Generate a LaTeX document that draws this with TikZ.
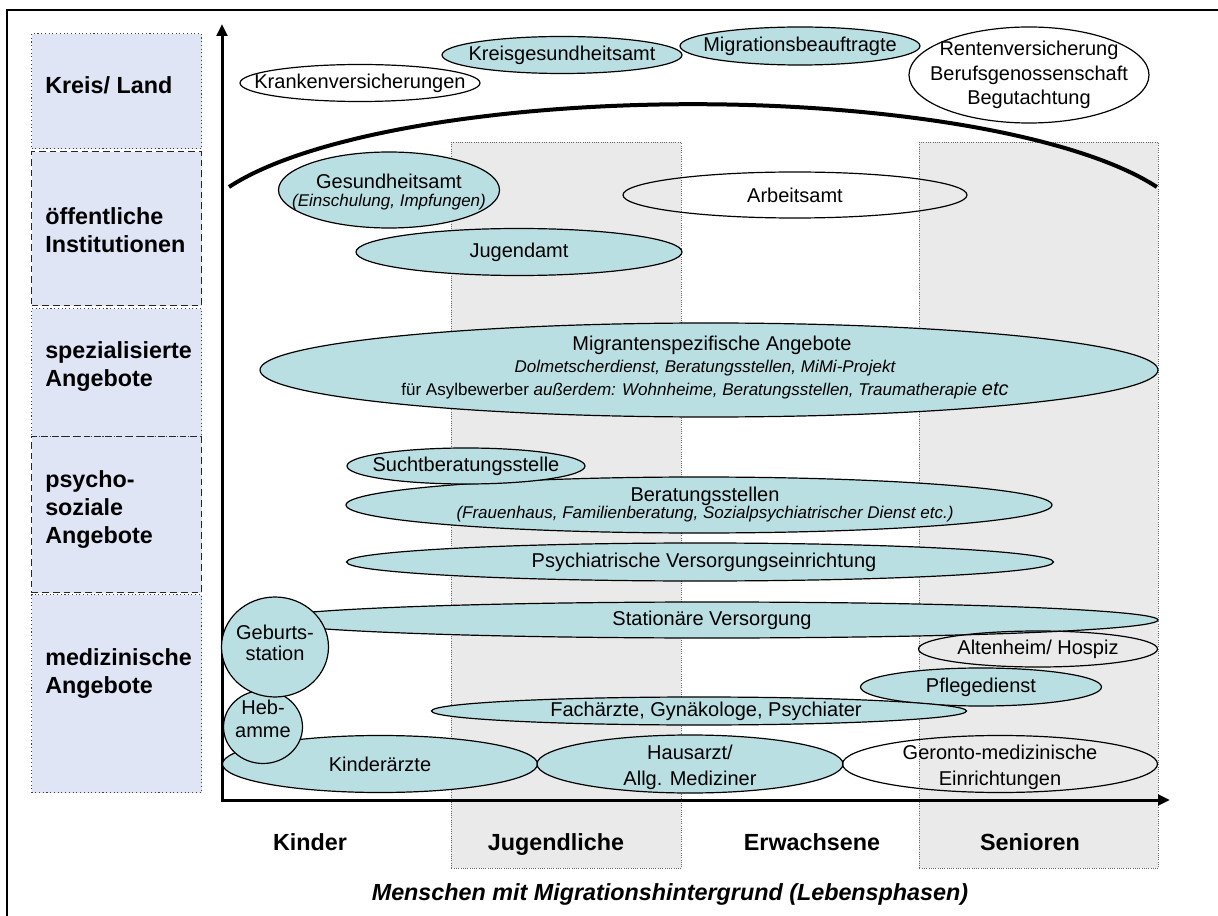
\documentclass[tikz,border=0pt]{standalone}
\usepackage{fontspec}
\setmainfont{Liberation Sans}
\usetikzlibrary{shapes.geometric,arrows.meta}
\definecolor{teal1}{RGB}{185,223,227}
\definecolor{boxblue}{RGB}{224,229,246}
\definecolor{band}{RGB}{234,234,234}
\tikzset{
 ell/.style 2 args={ellipse, draw=black, line width=0.9pt, inner sep=0pt, minimum width=#1*0.75pt, minimum height=#2*0.75pt},
 tealell/.style={fill=teal1},
 txt/.style={font=\fontsize{15}{18}\selectfont, align=center, inner sep=0pt},
 sub/.style={font=\fontsize{12.75}{15}\selectfont\itshape, align=center, inner sep=0pt},
 lab/.style={font=\fontsize{17.5}{21}\selectfont\bfseries, align=left, anchor=west, inner sep=0pt},
 phase/.style={font=\fontsize{17.5}{21}\selectfont\bfseries, inner sep=0pt, anchor=base},
 dottedbox/.style={fill=boxblue, draw=black!75, line width=0.8pt, dotted},
 dashedbox/.style={fill=boxblue, draw=black!85, line width=1.1pt, dash pattern=on 5pt off 3pt},
 bandbox/.style={fill=band, draw=black!60, densely dotted, line width=0.7pt},
}
\begin{document}
\begin{tikzpicture}[x=0.75pt,y=-0.75pt]
\useasboundingbox (0,0) rectangle (1218,916);
\clip (0,0) rectangle (1218,916);
% frame
\draw[line width=2pt] (7,10) rectangle (1240,940);
% left category boxes
\node[dottedbox, minimum width=170*0.75pt, minimum height=115*0.75pt, anchor=north west] (b1) at (31,33) {};
\node[dashedbox, minimum width=170*0.75pt, minimum height=154*0.75pt, anchor=north west] (b2) at (31,151) {};
\node[dottedbox, minimum width=170*0.75pt, minimum height=128*0.75pt, anchor=north west] (b3) at (31,308) {};
\node[dashedbox, minimum width=170*0.75pt, minimum height=156*0.75pt, anchor=north west] (b4) at (31,436) {};
\node[dottedbox, minimum width=170*0.75pt, minimum height=198*0.75pt, anchor=north west] (b5) at (31,594) {};
\node[lab] (l1) at (45,85) {Kreis/ Land};
\node[lab] (l2) at (45,230) {öffentliche\\Institutionen};
\node[lab] (l3) at (45,367) {spezialisierte\\Angebote};
\node[lab] (l4) at (45,510) {psycho-\\soziale\\Angebote};
\node[lab] (l5) at (45,674) {medizinische\\Angebote};
% phase bands
\node[bandbox, minimum width=230*0.75pt, minimum height=726*0.75pt, anchor=north west] (jb) at (451,142) {};
\node[bandbox, minimum width=239*0.75pt, minimum height=726*0.75pt, anchor=north west] (sbnd) at (919,142) {};
% arc
\draw[line width=3pt] (229,187) arc[start angle=-158.1, end angle=-21.9, x radius=500, y radius=132];
% axes
\coordinate (o) at (222,800);
\coordinate (ytip) at (222,24);
\coordinate (xtip) at (1170,800);
\draw[line width=2.25pt, {Triangle[length=9pt,width=8pt]}-{Triangle[length=9pt,width=8pt]}] (ytip) -- (o) -- (xtip);
% ellipses
\node[ell={240}{37}] (kv) at (360,83) {};
\node[ell={240}{37},tealell] (kga) at (562,55) {};
\node[ell={240}{38},tealell] (mb) at (800,46) {};
\node[ell={240}{96}] (rv) at (1029,75) {};
\node[ell={221}{76},tealell] (ga) at (389,190) {};
\node[ell={344}{46}] (aa) at (795,195) {};
\node[ell={326}{47},tealell] (ja) at (519,252) {};
\node[ell={898}{94},tealell] (ms) at (709,370) {};
\node[ell={706}{56},tealell] (bs) at (699,505) {};
\node[ell={238}{36},tealell] (sb) at (466,466) {};
\node[ell={707}{38},tealell] (pv) at (700,562) {};
\node[ell={892}{36},tealell] (sv) at (712,620) {};
\node[ell={239}{36}] (ah) at (1038,649) {};
\node[ell={241}{38},tealell] (pd) at (981,687) {};
\node[ell={535}{28},tealell] (fa) at (699,711) {};
\node[ell={315}{57},tealell] (ka) at (380,764) {};
\node[ell={306}{58},tealell] (ha) at (690,764) {};
\node[ell={315}{57}] (gm) at (1000,764) {};
\node[ell={79}{73},tealell] (hb) at (263,727) {};
\node[ell={107}{100},tealell] (gs) at (275,647) {};
% ellipse texts
\node[txt] (kvT) at (kv.center) {Krankenversicherungen};
\node[txt] (kgaT) at (kga.center) {Kreisgesundheitsamt};
\node[txt] (mbT) at (mb.center) {Migrationsbeauftragte};
\node[txt, font=\fontsize{15}{18.5}\selectfont] (rvT) at (rv.center) {Rentenversicherung\\Berufsgenossenschaft\\Begutachtung};
\node[txt] (gaT) at (389,181) {Gesundheitsamt};
\node[sub] (gaS) at (389,202) {(Einschulung, Impfungen)};
\node[txt] (aaT) at (aa.center) {Arbeitsamt};
\node[txt] (jaT) at (ja.center) {Jugendamt};
\node[txt] (msT) at (712,345) {Migrantenspezifische Angebote};
\node[sub] (msS) at (705,368) {Dolmetscherdienst, Beratungsstellen, MiMi-Projekt};
\node[sub, font=\fontsize{12.75}{15}\selectfont] (msA) at (705,391) {für Asylbewerber \textit{außerdem: Wohnheime, Beratungsstellen, Traumatherapie} {\fontsize{15}{18}\selectfont\itshape etc}};
\node[txt] (sbT) at (sb.center) {Suchtberatungsstelle};
\node[txt] (bsT) at (705,496) {Beratungsstellen};
\node[sub] (bsS) at (705,514) {(Frauenhaus, Familienberatung, Sozialpsychiatrischer Dienst etc.)};
\node[txt] (pvT) at (704,562) {Psychiatrische Versorgungseinrichtung};
\node[txt] (svT) at (712,620) {Stationäre Versorgung};
\node[txt] (ahT) at (ah.center) {Altenheim/ Hospiz};
\node[txt] (pdT) at (pd.center) {Pflegedienst};
\node[txt] (faT) at (706,711) {Fachärzte, Gynäkologe, Psychiater};
\node[txt] (kaT) at (ka.center) {Kinderärzte};
\node[txt, font=\fontsize{15}{19.5}\selectfont] (haT) at (690,767) {Hausarzt/\\Allg. Mediziner};
\node[txt, font=\fontsize{15}{19.5}\selectfont] (gmT) at (1000,767) {Geronto-medizinische\\Einrichtungen};
\node[txt, font=\fontsize{15}{17.5}\selectfont] (hbT) at (263,719) {Heb-\\amme};
\node[txt, font=\fontsize{15}{16}\selectfont] (gsT) at (275,643) {Geburts-\\station};
% phase labels
\node[phase] (p1) at (310,850) {Kinder};
\node[phase] (p2) at (556,850) {Jugendliche};
\node[phase] (p3) at (812,850) {Erwachsene};
\node[phase] (p4) at (1030,850) {Senioren};
\node[phase, font=\fontsize{17.5}{21}\selectfont\bfseries\itshape] (title) at (670,900) {Menschen mit Migrationshintergrund (Lebensphasen)};
\end{tikzpicture}
\end{document}
